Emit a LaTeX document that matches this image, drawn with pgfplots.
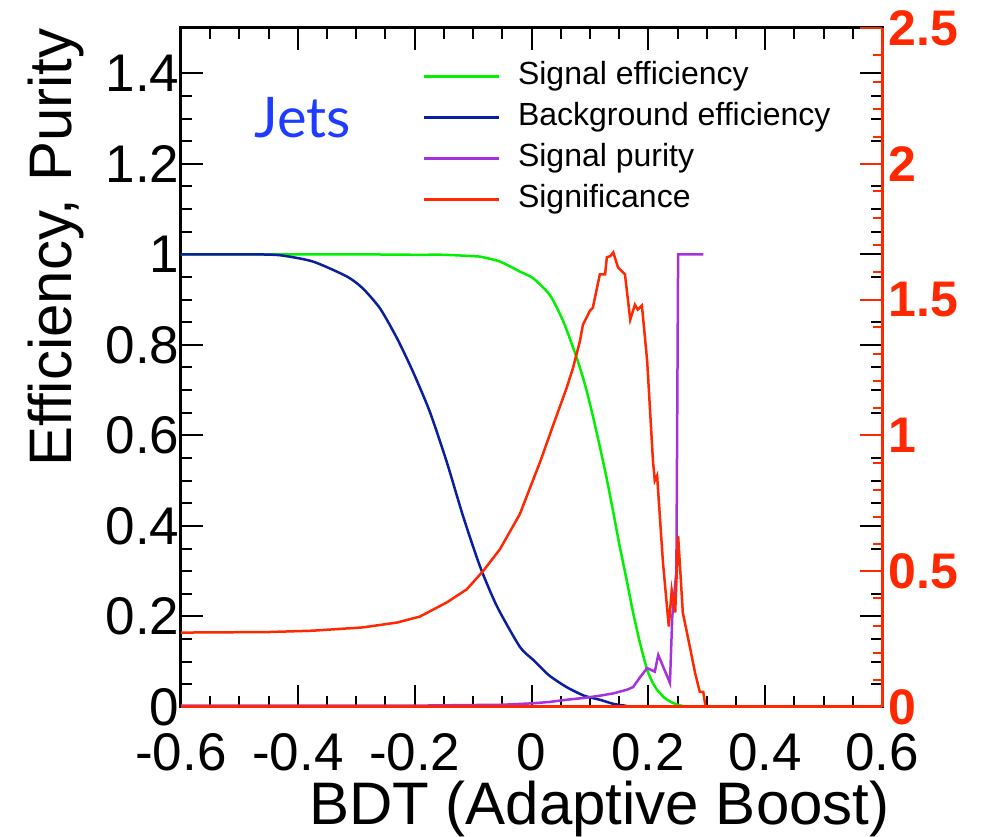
\documentclass[border=0pt]{standalone}
\usepackage{fontspec}
\setmainfont{Liberation Sans}
\newfontfamily\jetsfont{Lato}
\usepackage{pgfplots}
\pgfplotsset{compat=1.18}
\definecolor{sgreen}{RGB}{0,240,0}
\definecolor{bblue}{RGB}{10,30,160}
\definecolor{ppurple}{RGB}{165,50,220}
\definecolor{rred}{RGB}{255,40,0}
\definecolor{jblue}{RGB}{30,60,255}

\pgfplotstableread{
x y
-0.6 1.0
-0.5 1.0
-0.4 1.0
-0.3 1.0
-0.2 0.999
-0.15 0.999
-0.1 0.996
-0.088 0.995
-0.054 0.984
-0.02 0.962
0.003 0.947
0.032 0.909
0.055 0.85
0.078 0.769
0.092 0.71
0.105 0.643
0.117 0.575
0.129 0.503
0.14 0.43
0.151 0.355
0.163 0.28
0.174 0.208
0.186 0.14
0.198 0.082
0.207 0.055
0.215 0.038
0.228 0.02
0.242 0.009
0.26 0.002
0.3 0
0.6 0
}\sigeff

\pgfplotstableread{
x y
-0.6 1.0
-0.487 1.0
-0.431 0.998
-0.374 0.984
-0.316 0.951
-0.289 0.925
-0.259 0.880
-0.230 0.814
-0.203 0.741
-0.174 0.652
-0.145 0.541
-0.117 0.421
-0.088 0.310
-0.059 0.222
-0.02 0.133
0.003 0.104
0.03 0.07
0.06 0.044
0.09 0.025
0.117 0.016
0.14 0.007
0.16 0.003
0.2 0.0
0.6 0
}\bkgeff

\pgfplotstableread{
x y
-0.6 0.003
-0.2 0.003
-0.05 0.005
0.0 0.008
0.03 0.011
0.06 0.016
0.09 0.02
0.117 0.025
0.14 0.03
0.163 0.038
0.174 0.044
0.186 0.066
0.198 0.086
0.211 0.078
0.217 0.115
0.237 0.053
0.241 0.2
0.248 0.3
0.251 1.0
0.294 1.0
}\purity

\pgfplotstableread{
x y
-0.6 0.274
-0.45 0.276
-0.374 0.281
-0.289 0.293
-0.230 0.311
-0.191 0.333
-0.145 0.385
-0.111 0.433
-0.083 0.5
-0.054 0.581
-0.02 0.71
0.015 0.904
0.037 1.037
0.06 1.174
0.071 1.248
0.083 1.348
0.088 1.407
0.1 1.459
0.105 1.47
0.117 1.593
0.126 1.593
0.129 1.656
0.135 1.66
0.14 1.674
0.148 1.619
0.16 1.593
0.169 1.426
0.177 1.481
0.182 1.463
0.189 1.478
0.198 1.274
0.208 0.904
0.211 0.833
0.215 0.852
0.225 0.533
0.235 0.296
0.24 0.43
0.246 0.348
0.251 0.63
0.259 0.348
0.271 0.222
0.28 0.126
0.288 0.056
0.294 0.056
0.298 0
0.6 0
}\signif

\begin{document}
\begin{tikzpicture}
\begin{axis}[
  name=ax,
  scale only axis, width=701pt, height=679pt,
  xmin=-0.6, xmax=0.6, ymin=0, ymax=1.5,
  xtick={-0.6,-0.4,-0.2,0,0.2,0.4,0.6},
  xticklabels={-0.6,-0.4,-0.2,0,0.2,0.4,0.6},
  ytick={0,0.2,0.4,0.6,0.8,1,1.2,1.4},
  yticklabels={0,0.2,0.4,0.6,0.8,1,1.2,1.4},
  minor x tick num=3, minor y tick num=3,
  tick align=inside,
  major tick length=22pt, minor tick length=11pt,
  every tick/.style={line width=2pt, black},
  axis line style={line width=3pt, black},
  ticklabel style={font=\fontsize{53}{53}\selectfont, inner sep=0pt},
  xticklabel style={yshift=-26pt},
  yticklabel style={xshift=-1.5pt},
  legend style={at={(rel axis cs:0.34,0.962)}, anchor=north west, draw=none, fill=none,
    font=\fontsize{32}{32}\selectfont,
    nodes={text height=24pt, text depth=7pt, inner ysep=5pt},
    /tikz/every odd column/.append style={column sep=16pt}},
  legend cell align=left,
  legend image code/.code={\draw[#1, line width=2.5pt] (0pt,0pt) -- (75pt,0pt);},
]
\addplot[sgreen, line width=2.5pt, smooth, tension=0.4] table {\sigeff};
\addlegendentry{Signal efficiency}
\addplot[bblue, line width=2.5pt, smooth, tension=0.4] table {\bkgeff};
\addlegendentry{Background efficiency}
\addplot[ppurple, line width=2.5pt] table {\purity};
\addlegendentry{Signal purity}
\addlegendimage{rred, line width=2.5pt}
\addlegendentry{Significance}
\end{axis}
\begin{axis}[
  scale only axis, width=701pt, height=679pt,
  xmin=-0.6, xmax=0.6, ymin=0, ymax=2.5,
  axis y line*=right, axis x line*=bottom,
  xtick=\empty,
  ytick={0,0.5,1,1.5,2,2.5},
  yticklabels={0,0.5,1,1.5,2,2.5},
  minor y tick num=4,
  tick align=inside,
  major tick length=22pt, minor tick length=9pt,
  every tick/.style={line width=2pt, rred},
  axis line style={line width=3pt, rred},
  yticklabel style={font=\bfseries\fontsize{50}{50}\selectfont, text=rred, inner sep=0pt, xshift=6.5pt},
]
\addplot[rred, line width=2.5pt] table {\signif};
\end{axis}
\node[anchor=base west, text=jblue, font=\jetsfont\fontsize{56}{56}\selectfont]
  at ([xshift=70pt, yshift=-110pt]ax.north west) {Jets};
\node[anchor=base east, font=\fontsize{60}{60}\selectfont]
  at ([xshift=11pt, yshift=-118pt]ax.south east) {BDT (Adaptive Boost)};
\node[rotate=90, anchor=base east, font=\fontsize{60}{60}\selectfont]
  at ([xshift=-109pt, yshift=3pt]ax.north west) {Efficiency, Purity};
\pgfresetboundingbox
\path ([xshift=-181pt, yshift=-130pt]ax.south west) rectangle ([xshift=100pt, yshift=28pt]ax.north east);
\end{tikzpicture}
\end{document}
